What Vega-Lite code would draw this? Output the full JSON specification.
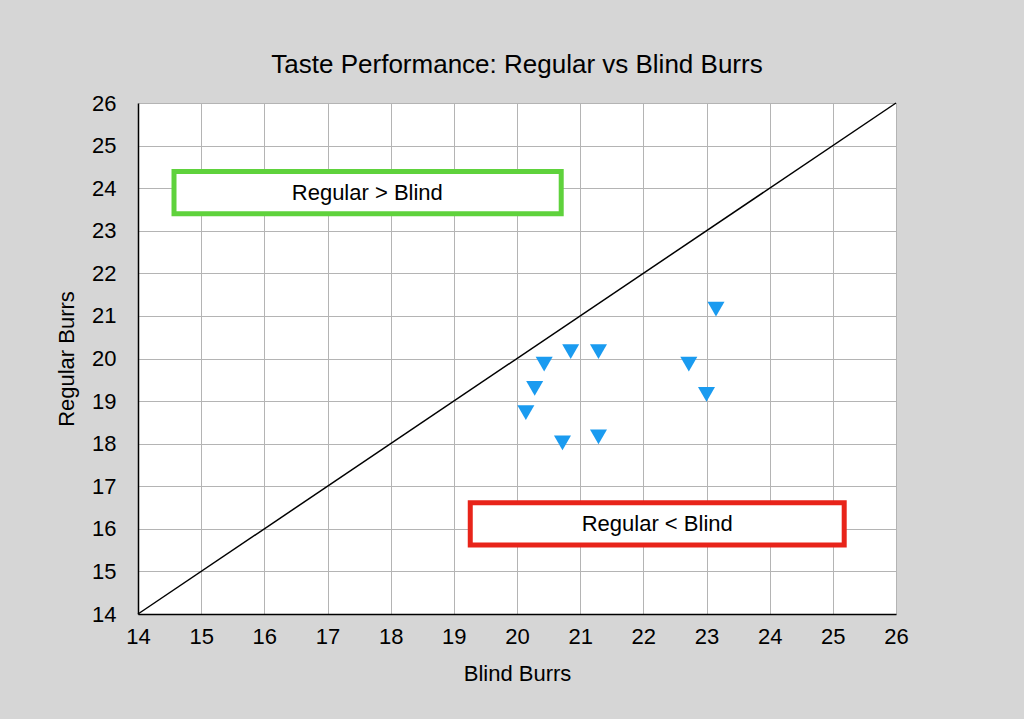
{
  "$schema": "https://vega.github.io/schema/vega-lite/v6.json",
  "autosize": "none",
  "width": 758,
  "height": 511,
  "padding": {"left": 138, "top": 103, "right": 128, "bottom": 105},
  "background": "#d6d6d6",
  "config": {
    "font": "Liberation Sans",
    "view": {"stroke": null, "fill": "white"},
    "axis": {
      "grid": true,
      "gridColor": "#b4b4b4",
      "gridWidth": 1,
      "ticks": false,
      "domainColor": "#000000",
      "domainWidth": 1.5,
      "labelFontSize": 22,
      "labelColor": "#000000",
      "labelOverlap": false,
      "labelFlush": false,
      "format": "d",
      "titleFontSize": 22,
      "titleFontWeight": "normal",
      "titleColor": "#000000",
      "labelFont": "Liberation Sans",
      "titleFont": "Liberation Sans"
    }
  },
  "title": {
    "text": "Taste Performance: Regular vs Blind Burrs",
    "fontSize": 26,
    "fontWeight": "normal",
    "font": "Liberation Sans",
    "color": "#000000",
    "anchor": "middle",
    "baseline": "alphabetic",
    "offset": -7
  },
  "datasets": {
    "points": [
      {"blind": 23.15, "regular": 21.16},
      {"blind": 20.85, "regular": 20.16},
      {"blind": 21.29, "regular": 20.16},
      {"blind": 20.43, "regular": 19.87},
      {"blind": 22.72, "regular": 19.87},
      {"blind": 20.28, "regular": 19.3},
      {"blind": 23.0, "regular": 19.16},
      {"blind": 20.14, "regular": 18.73},
      {"blind": 20.72, "regular": 18.02},
      {"blind": 21.29, "regular": 18.16}
    ],
    "diag": [
      {"blind": 14, "regular": 14},
      {"blind": 26, "regular": 26}
    ],
    "boxes": [
      {"x1": 14.57, "x2": 20.7, "y1": 23.4, "y2": 24.39, "tx": 17.63, "ty": 23.89, "label": "Regular > Blind", "kind": "green"},
      {"x1": 19.26, "x2": 25.18, "y1": 15.62, "y2": 16.61, "tx": 22.22, "ty": 16.11, "label": "Regular < Blind", "kind": "red"}
    ]
  },
  "layer": [
    {
      "data": {"name": "diag"},
      "mark": {"type": "line", "color": "#000000", "strokeWidth": 1.5},
      "encoding": {
        "x": {"field": "blind", "type": "quantitative", "scale": {"domain": [14, 26], "nice": false}, "axis": {"title": "Blind Burrs", "format": "d", "values": [14,15,16,17,18,19,20,21,22,23,24,25,26], "labelPadding": 12, "titlePadding": 16}},
        "y": {"field": "regular", "type": "quantitative", "scale": {"domain": [14, 26], "nice": false}, "axis": {"title": "Regular Burrs", "format": "d", "values": [14,15,16,17,18,19,20,21,22,23,24,25,26], "labelPadding": 22, "titlePadding": 13}}
      }
    },
    {
      "data": {"name": "boxes"},
      "mark": {"type": "rect", "fill": "white", "strokeWidth": 5},
      "encoding": {
        "x": {"field": "x1", "type": "quantitative"},
        "x2": {"field": "x2"},
        "y": {"field": "y1", "type": "quantitative"},
        "y2": {"field": "y2"},
        "stroke": {"field": "kind", "type": "nominal", "scale": {"domain": ["green", "red"], "range": ["#5fd23c", "#e8241a"]}, "legend": null}
      }
    },
    {
      "data": {"name": "boxes"},
      "mark": {"type": "text", "fontSize": 22, "color": "#000000", "align": "center", "baseline": "middle", "font": "Liberation Sans"},
      "encoding": {
        "x": {"field": "tx", "type": "quantitative"},
        "y": {"field": "ty", "type": "quantitative"},
        "text": {"field": "label"}
      }
    },
    {
      "data": {"name": "points"},
      "mark": {"type": "point", "shape": "triangle-down", "filled": true, "size": 290, "color": "#1a9bf0", "opacity": 1},
      "encoding": {
        "x": {"field": "blind", "type": "quantitative"},
        "y": {"field": "regular", "type": "quantitative"}
      }
    }
  ]
}
